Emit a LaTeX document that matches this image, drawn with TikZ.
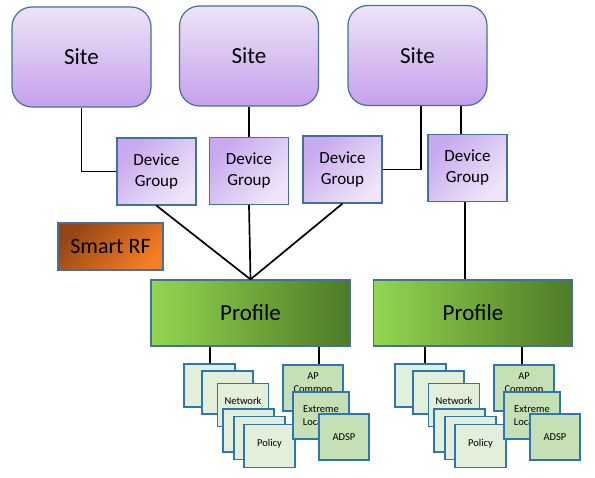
\documentclass[tikz,border=0pt]{standalone}
\usepackage{fontspec}
\setmainfont{Carlito}

\definecolor{bordblue}{RGB}{65,113,156}
\definecolor{sheetblue}{RGB}{46,117,182}
\definecolor{sitetop}{RGB}{236,228,247}
\definecolor{sitebot}{RGB}{198,160,236}
\definecolor{groupdark}{RGB}{200,168,238}
\definecolor{grouplight}{RGB}{238,230,248}
\definecolor{rfdark}{RGB}{150,70,20}
\definecolor{rforange}{RGB}{245,125,35}
\definecolor{proflight}{RGB}{146,214,80}
\definecolor{profdark}{RGB}{78,122,38}
\definecolor{sheetlight}{RGB}{226,239,218}
\definecolor{sheetdark}{RGB}{197,224,180}

\tikzset{
  site/.style={draw=bordblue, line width=1.2pt, rounded corners=20pt,
    top color=sitetop, bottom color=sitebot,
    minimum width=139pt, minimum height=100pt, font=\fontsize{23}{27}\selectfont},
  group/.style={draw=bordblue, line width=1.2pt, inner sep=0pt,
    top color=groupdark, bottom color=grouplight, shading angle=45,
    minimum width=79pt, minimum height=67pt, align=center,
    font=\fontsize{17}{21}\selectfont},
  smartrf/.style={draw=bordblue, line width=1.2pt, inner sep=0pt,
    top color=rfdark, bottom color=rforange, shading angle=45,
    minimum width=105pt, minimum height=47pt, font=\fontsize{22}{26}\selectfont},
  profile/.style={draw=bordblue, line width=1.2pt, inner sep=0pt,
    left color=proflight, right color=profdark,
    minimum width=199pt, minimum height=66pt, font=\fontsize{23}{27}\selectfont},
  sheet/.style={draw=sheetblue, line width=1.6pt, fill=sheetlight, inner sep=0pt,
    minimum width=51pt, minimum height=43pt, align=center,
    font=\fontsize{10.5}{13}\selectfont},
  darksheet/.style={sheet, fill=sheetdark},
  sheettext/.style={inner sep=0pt, align=center, font=\fontsize{10.5}{13}\selectfont},
  link/.style={line width=1.7pt, black}
}

\begin{document}
\begin{tikzpicture}[x=1pt,y=-1pt]
\useasboundingbox (0,0) rectangle (595,478);

% Sites
\node[site] (site1) at (81.5,57) {Site};
\node[site] (site2) at (249,56) {Site};
\node[site] (site3) at (417.5,55.5) {Site};

% Device groups
\node[group] (group1) at (156.5,171.5) {Device\\Group};
\node[group] (group2) at (249,171) {Device\\Group};
\node[group] (group3) at (342.5,169.5) {Device\\Group};
\node[group] (group4) at (467.5,168) {Device\\Group};

% Smart RF
\node[smartrf] (smartrf) at (110.5,246.5) {Smart RF};

% Profiles
\node[profile] (profile1) at (250.5,313) {Profile};
\node[profile] (profile2) at (473,313) {Profile};

% Site to device group
\draw[link] (site1.south) |- (group1.west);
\draw[link] (site2.south) -- (group2.north);
\draw[link] (site3.south -| 421,0) |- (group3.east);
\draw[link] (site3.south -| 461,0) -- (group4.north -| 461,0);

% Device group to profile
\draw[link] (group1.south) -- (profile1.north);
\draw[link] (group2.south) -- (profile1.north);
\draw[link] (group3.south) -- (profile1.north);
\draw[link] (group4.south -| 465,0) -- (profile2.north -| 465,0);

% First profile stack
\node[sheet] (net1a) at (209.5,385.5) {};
\node[sheet] (net1b) at (227.5,392.5) {};
\node[sheet, text depth=8pt] (net1c) at (243,405) {Network};
\node[sheet] (pol1a) at (248.5,430.5) {};
\node[sheet] (pol1b) at (259.5,438) {};
\node[sheet, text depth=6pt] (pol1c) at (269.5,446) {Policy};
\node[darksheet, minimum width=60pt, minimum height=46pt] (apcommon1) at (313,388) {};
\node[sheettext] (apcommon1-txt) at (313,382.5) {AP\\Common};
\node[darksheet, minimum width=56pt, minimum height=47pt] (extreme1) at (321,415.5) {Extreme\\Location};
\node[darksheet, minimum width=50pt, minimum height=46pt] (adsp1) at (344,437) {ADSP};
\draw[link] (profile1.south -| 210,0) -- (net1a.north -| 210,0);
\draw[link] (profile1.south -| 319,0) -- (apcommon1.north -| 319,0);

% Second profile stack
\node[sheet] (net2a) at (420.5,385.5) {};
\node[sheet] (net2b) at (438.5,392.5) {};
\node[sheet, text depth=8pt] (net2c) at (454,405) {Network};
\node[sheet] (pol2a) at (459.5,430.5) {};
\node[sheet] (pol2b) at (470.5,438) {};
\node[sheet, text depth=6pt] (pol2c) at (480.5,446) {Policy};
\node[darksheet, minimum width=60pt, minimum height=46pt] (apcommon2) at (524,388) {};
\node[sheettext] (apcommon2-txt) at (524,382.5) {AP\\Common};
\node[darksheet, minimum width=56pt, minimum height=47pt] (extreme2) at (532,415.5) {Extreme\\Location};
\node[darksheet, minimum width=50pt, minimum height=46pt] (adsp2) at (555,437) {ADSP};
\draw[link] (profile2.south -| 425,0) -- (net2a.north -| 425,0);
\draw[link] (profile2.south -| 522,0) -- (apcommon2.north -| 522,0);

\end{tikzpicture}
\end{document}
